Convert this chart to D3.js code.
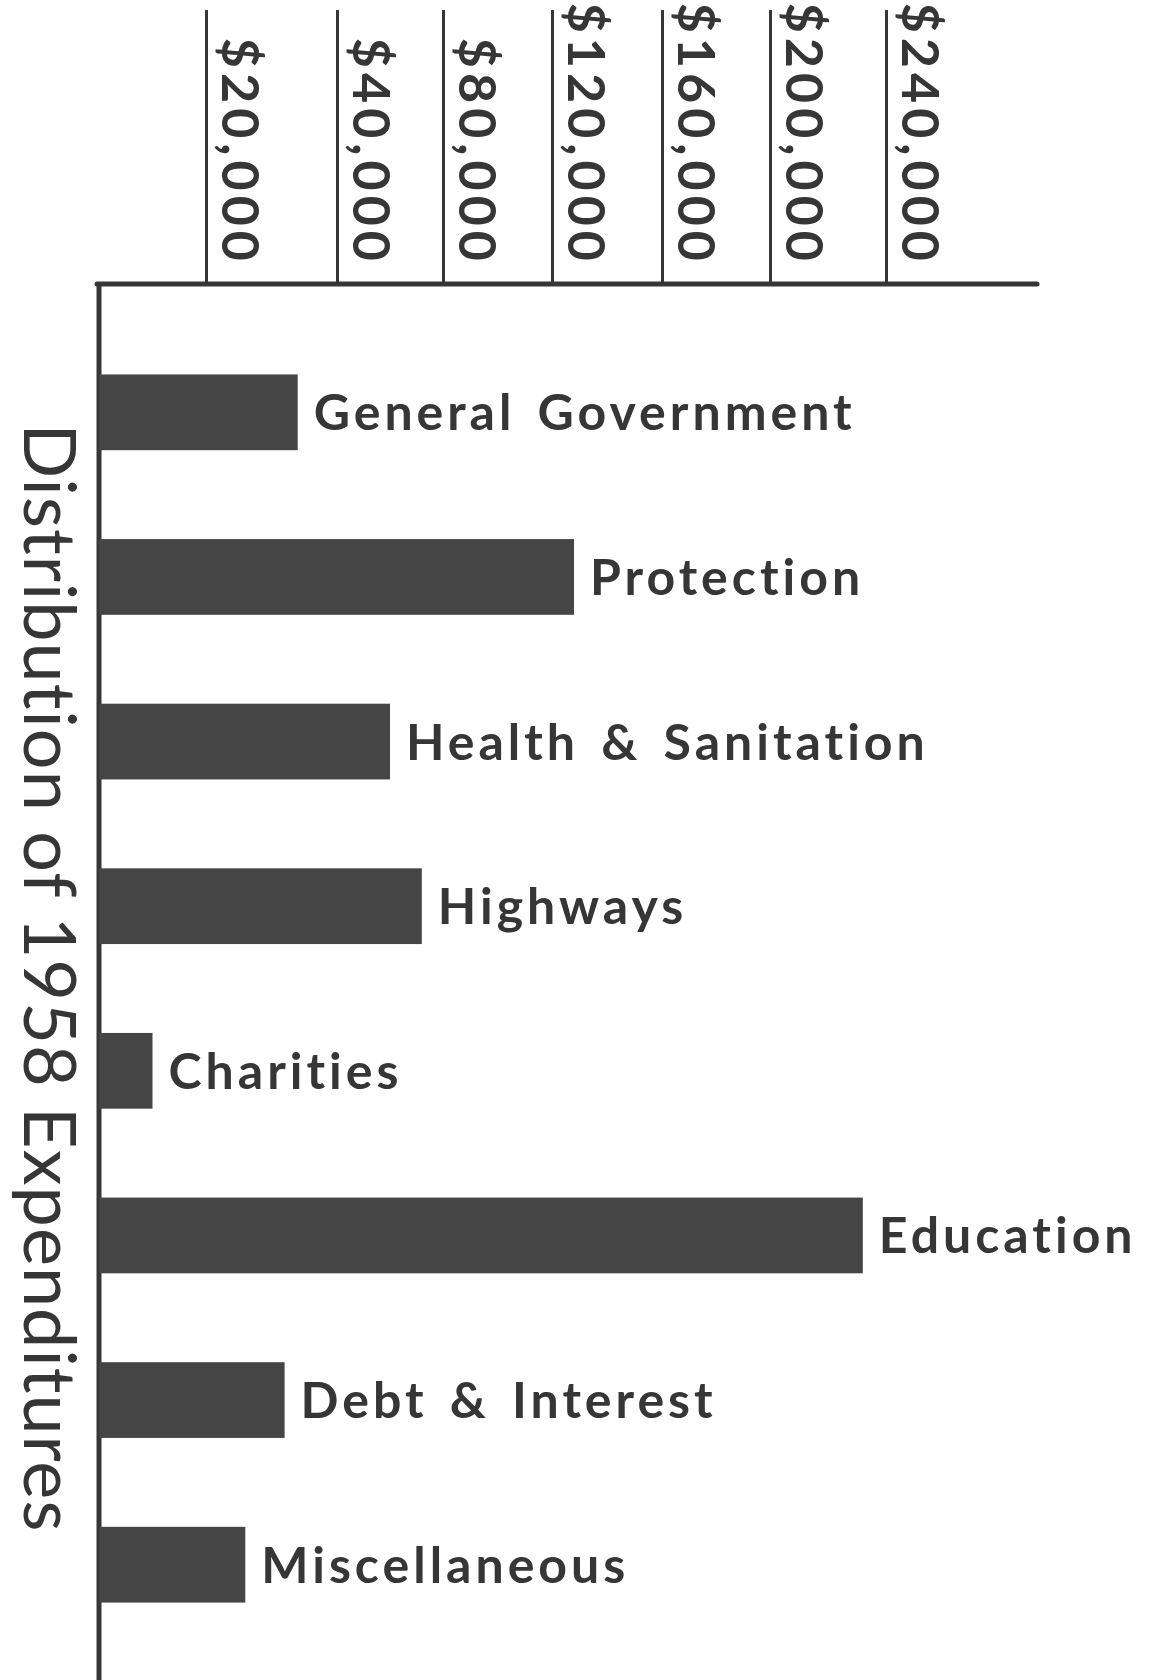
<!DOCTYPE html>
<html>
<head>
<meta charset="utf-8">
<script src="https://cdn.jsdelivr.net/npm/d3@7"></script>
<style>
  html, body { margin: 0; padding: 0; background: #ffffff; }
  svg { display: block; }
</style>
</head>
<body>
<div id="chart"></div>
<script>
var categories = [
  'General Government',
  'Protection',
  'Health & Sanitation',
  'Highways',
  'Charities',
  'Education',
  'Debt & Interest',
  'Miscellaneous'
];
var amounts = [34000, 128000, 60000, 72000, 10000, 232000, 32000, 26000];
var tickValues = [20000, 40000, 80000, 120000, 160000, 200000, 240000];
var tickLabels = ['$20,000', '$40,000', '$80,000', '$120,000', '$160,000', '$200,000', '$240,000'];
var chartTitle = 'Distribution of 1958 Expenditures';

(function () {
  var W = 1149, H = 1680;
  var INK = '#363636';
  var BAR = '#454545';
  var AXIS_Y = 284;      // horizontal axis line
  var AXIS_X = 99;       // vertical axis line
  var AXIS_END = 1037;
  var FONT = 'Lato, "Open Sans", sans-serif';

  var svg = d3.select('#chart')
    .append('svg')
    .attr('width', W)
    .attr('height', H)
    .style('background', '#ffffff');

  // the printed axis is not linear, so map each tick to its drawn position
  var x = d3.scaleLinear()
    .domain([0].concat(tickValues))
    .range([AXIS_X, 206, 337, 443, 552, 662, 770, 886]);

  var y = d3.scaleBand()
    .domain(categories)
    .range([330, 1647])
    .paddingInner(0.54)
    .paddingOuter(0.27);

  // top axis with tall tick lines
  var xAxis = d3.axisTop(x)
    .tickValues(tickValues)
    .tickFormat(function (d, i) { return tickLabels[i]; })
    .tickSize(AXIS_Y - 10)
    .tickSizeOuter(0);

  var gx = svg.append('g')
    .attr('transform', 'translate(0,' + AXIS_Y + ')')
    .call(xAxis);

  gx.select('.domain').remove();
  gx.selectAll('.tick line')
    .attr('stroke', INK)
    .attr('stroke-width', 3);
  gx.selectAll('.tick text')
    .attr('transform', 'rotate(90)')
    .attr('x', -18)
    .attr('y', -15)
    .attr('dy', 0)
    .attr('text-anchor', 'end')
    .attr('fill', INK)
    .style('font-family', FONT)
    .style('font-weight', 700)
    .style('font-size', '52px')
    .style('letter-spacing', '5px');

  svg.append('line')
    .attr('x1', AXIS_X - 2)
    .attr('x2', AXIS_END)
    .attr('y1', AXIS_Y)
    .attr('y2', AXIS_Y)
    .attr('stroke', INK)
    .attr('stroke-width', 5)
    .attr('stroke-linecap', 'round');

  svg.append('line')
    .attr('x1', AXIS_X)
    .attr('x2', AXIS_X)
    .attr('y1', AXIS_Y - 2)
    .attr('y2', H)
    .attr('stroke', INK)
    .attr('stroke-width', 5);

  // bars
  svg.append('g')
    .selectAll('rect')
    .data(categories)
    .join('rect')
    .attr('x', x(0))
    .attr('y', function (d) { return y(d); })
    .attr('width', function (d, i) { return x(amounts[i]) - x(0); })
    .attr('height', y.bandwidth())
    .attr('fill', BAR);

  // category labels at the end of each bar
  svg.append('g')
    .selectAll('text')
    .data(categories)
    .join('text')
    .attr('x', function (d, i) { return x(amounts[i]) + 16; })
    .attr('y', function (d) { return y(d) + y.bandwidth() / 2; })
    .attr('dy', '0.36em')
    .attr('fill', INK)
    .style('font-family', FONT)
    .style('font-weight', 700)
    .style('font-size', '50px')
    .style('letter-spacing', '4px')
    .style('word-spacing', '6px')
    .text(function (d) { return d; });

  // title running down the left side
  svg.append('text')
    .attr('transform', 'translate(24,978) rotate(90)')
    .attr('text-anchor', 'middle')
    .attr('fill', INK)
    .style('font-family', FONT)
    .style('font-size', '72px')
    .style('letter-spacing', '1px')
    .text(chartTitle);
})();
</script>
</body>
</html>
